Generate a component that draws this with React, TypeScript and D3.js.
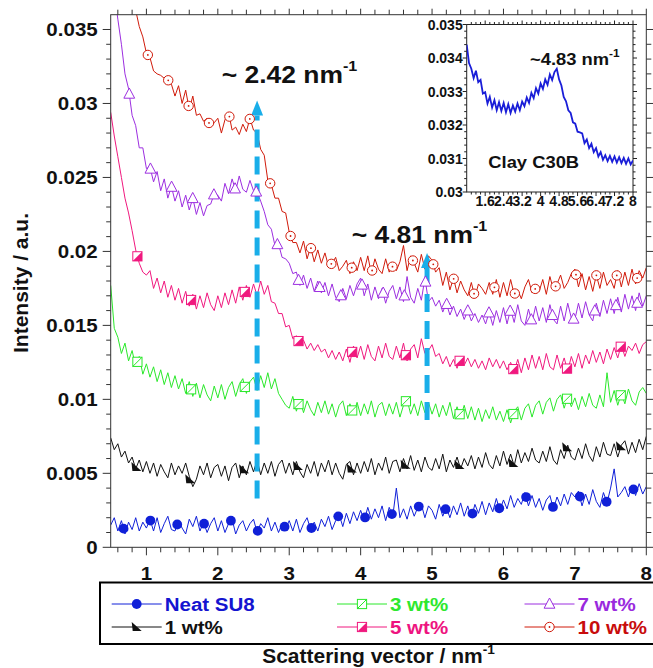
import React from "react";
import * as d3 from "d3";

// ---------------- DATA ----------------
// Scattering vector grid of the SAXS curves (nm^-1)
const X_START = 0.5;
const X_STEP = 0.05;
// Intensities in units of 1e-4 a.u., one value per grid point (0.50 ... 8.00)
const INTENSITY_UNIT = 1e-4;
const neatSU8 = [
  15, 20, 11, 18, 9, 17, 12, 20, 11, 17,
  13, 19, 11, 20, 10, 16, 21, 12, 11, 18,
  13, 9, 19, 14, 21, 11, 17, 10, 16, 20,
  11, 18, 10, 16, 19, 9, 15, 18, 11, 16,
  19, 10, 16, 13, 20, 11, 17, 10, 16, 13,
  18, 11, 19, 10, 16, 20, 12, 17, 11, 19,
  14, 21, 12, 18, 22, 14, 23, 16, 24, 18,
  25, 18, 27, 19, 26, 20, 28, 18, 27, 21,
  40, 20, 26, 19, 28, 21, 27, 29, 20, 28,
  25, 19, 29, 21, 27, 20, 28, 22, 30, 21,
  28, 20, 29, 23, 31, 22, 30, 24, 33, 25,
  32, 26, 35, 27, 33, 29, 37, 28, 35, 27,
  33, 25, 32, 35, 26, 34, 28, 36, 29, 37,
  34, 38, 28, 36, 29, 39, 31, 27, 37, 30,
  40, 53, 34, 37, 41, 34, 42, 35, 43, 36,
  41,
];
const wt1 = [
  74, 66, 70, 61, 65, 57, 61, 53, 59, 51,
  58, 50, 57, 48, 56, 51, 47, 57, 49, 55,
  50, 57, 48, 41, 46, 55, 49, 57, 47, 54,
  56, 48, 55, 45, 54, 57, 47, 55, 49, 58,
  51, 59, 49, 57, 50, 58, 48, 56, 59, 50,
  57, 49, 58, 51, 47, 56, 50, 58, 48, 57,
  51, 59, 49, 57, 50, 46, 56, 58, 49, 57,
  50, 58, 51, 60, 49, 57, 52, 61, 50, 58,
  59, 51, 60, 53, 62, 52, 59, 51, 61, 54,
  52, 60, 53, 63, 51, 59, 54, 61, 53, 60,
  55, 62, 53, 61, 54, 64, 56, 53, 62, 55,
  65, 56, 63, 55, 66, 57, 64, 58, 67, 59,
  57, 65, 58, 68, 59, 56, 66, 60, 69, 61,
  59, 67, 60, 70, 62, 58, 68, 61, 71, 63,
  62, 70, 61, 69, 72, 63, 71, 64, 73, 66,
  75,
];
const wt3 = [
  177, 148, 142, 131, 138, 126, 133, 122, 129, 117,
  124, 115, 122, 112, 120, 110, 118, 108, 116, 107,
  114, 104, 112, 102, 111, 101, 110, 103, 99, 109,
  101, 110, 100, 108, 112, 102, 110, 114, 104, 112,
  115, 106, 116, 108, 118, 107, 114, 104, 100, 96,
  94, 102, 92, 100, 91, 99, 93, 89, 98, 91,
  99, 90, 97, 88, 96, 99, 89, 97, 90, 98,
  89, 97, 90, 99, 88, 96, 98, 89, 97, 90,
  98, 88, 96, 100, 90, 97, 89, 99, 91, 98,
  90, 97, 88, 96, 89, 98, 87, 95, 88, 96,
  87, 95, 86, 94, 85, 93, 87, 95, 86, 92,
  85, 93, 84, 92, 95, 86, 94, 97, 88, 96,
  99, 90, 98, 101, 92, 100, 103, 94, 102, 95,
  101, 93, 102, 95, 104, 96, 94, 103, 95, 118,
  98, 106, 96, 104, 97, 107, 99, 96, 105, 108,
  104,
];
const wt5 = [
  294, 278, 264, 250, 236, 226, 214, 201, 192, 186,
  184, 187, 175, 182, 172, 180, 169, 177, 167, 175,
  165, 173, 163, 171, 161, 170, 162, 172, 164, 160,
  170, 162, 172, 164, 174, 165, 176, 167, 177, 169,
  178, 170, 180, 171, 177, 166, 165, 158, 158, 149,
  150, 141, 143, 137, 140, 134, 138, 133, 137, 132,
  134, 128, 133, 127, 132, 126, 134, 125, 136, 128,
  136, 127, 137, 129, 126, 136, 128, 138, 129, 127,
  136, 128, 138, 126, 134, 137, 128, 141, 131, 133,
  137, 129, 131, 124, 129, 122, 127, 121, 128, 123,
  128, 122, 127, 121, 126, 120, 128, 122, 127, 121,
  126, 120, 125, 119, 127, 118, 128, 120, 130, 121,
  129, 120, 131, 122, 120, 130, 121, 128, 119, 129,
  122, 131, 121, 130, 124, 133, 125, 132, 124, 134,
  127, 135, 128, 137, 129, 136, 133, 138, 131, 137,
  139,
];
const wt7 = [
  400, 375, 357, 340, 320, 310, 292, 285, 270, 270,
  256, 257, 247, 254, 241, 249, 236, 244, 234, 241,
  230, 238, 228, 236, 225, 233, 224, 231, 232, 239,
  238, 234, 246, 239, 249, 241, 251, 242, 240, 248,
  241, 240, 234, 227, 218, 215, 204, 205, 196, 195,
  192, 185, 186, 177, 184, 175, 182, 173, 180, 172,
  179, 170, 178, 169, 166, 175, 168, 177, 170, 178,
  182, 170, 178, 167, 176, 168, 175, 165, 173, 177,
  168, 176, 166, 183, 169, 165, 175, 167, 182, 166,
  169, 163, 167, 159, 165, 157, 163, 156, 161, 154,
  160, 153, 158, 152, 157, 151, 159, 150, 160, 152,
  162, 151, 161, 152, 164, 153, 150, 161, 152, 163,
  153, 162, 152, 164, 154, 151, 163, 153, 165, 155,
  154, 165, 155, 166, 157, 153, 165, 156, 167, 158,
  168, 158, 169, 159, 171, 161, 170, 160, 172, 163,
  170,
];
const wt10 = [
  450, 432, 418, 402, 391, 381, 373, 363, 352, 345,
  334, 331, 322, 320, 319, 317, 316, 313, 305, 312,
  300, 309, 296, 305, 292, 293, 288, 290, 284, 287,
  290, 280, 289, 294, 282, 284, 279, 286, 281, 290,
  282, 280, 269, 265, 248, 245, 236, 236, 227, 226,
  213, 206, 206, 199, 207, 195, 203, 193, 201, 192,
  199, 190, 192, 196, 187, 190, 194, 185, 193, 187,
  196, 187, 197, 185, 195, 188, 185, 195, 186, 190,
  187, 193, 204, 187, 197, 192, 186, 198, 188, 197,
  194, 186, 189, 177, 186, 174, 182, 172, 180, 174,
  170, 179, 169, 178, 175, 171, 179, 171, 181, 169,
  179, 170, 181, 171, 174, 168, 176, 181, 172, 175,
  173, 181, 171, 183, 174, 178, 184, 175, 179, 185,
  188, 176, 185, 174, 183, 173, 184, 175, 186, 177,
  181, 175, 187, 176, 186, 177, 188, 178, 187, 182,
  189,
];

// Inset: Clay C30B, grid 0.8 ... 8.0 step 0.1, intensities in 1e-5 a.u.
const INSET_X_START = 0.8;
const INSET_X_STEP = 0.1;
const INSET_UNIT = 1e-5;
const clayC30B = [
  3440, 3385, 3368, 3340, 3362, 3328, 3335, 3294, 3298, 3264,
  3284, 3252, 3274, 3244, 3268, 3242, 3266, 3238, 3262, 3236,
  3258, 3240, 3264, 3244, 3270, 3256, 3282, 3266, 3296, 3280,
  3310, 3294, 3324, 3308, 3336, 3320, 3351, 3334, 3358, 3368,
  3336, 3318, 3284, 3271, 3244, 3236, 3208, 3204, 3180, 3178,
  3175, 3146, 3157, 3131, 3144, 3119, 3131, 3106, 3119, 3096,
  3110, 3092, 3108, 3090, 3106, 3088, 3104, 3086, 3102, 3084,
  3100, 3082, 3094,
];

const Y_TICKS = [0, 0.005, 0.01, 0.015, 0.02, 0.025, 0.03, 0.035];
const Y_TICK_LABELS = ["0", "0.005", "0.01", "0.015", "0.02", "0.025", "0.03", "0.035"];
const X_TICKS = [1, 2, 3, 4, 5, 6, 7, 8];
const X_TICK_LABELS = ["1", "2", "3", "4", "5", "6", "7", "8"];
const INSET_Y_TICKS = [0.03, 0.031, 0.032, 0.033, 0.034, 0.035];
const INSET_Y_LABELS = ["0.03", "0.031", "0.032", "0.033", "0.034", "0.035"];
const INSET_X_TICKS = [1.6, 2.4, 3.2, 4, 4.8, 5.6, 6.4, 7.2, 8];
const INSET_X_LABELS = ["1.6", "2.4", "3.2", "4", "4.8", "5.6", "6.4", "7.2", "8"];
const SERIES_NAMES = ["Neat SU8", "1 wt%", "3 wt%", "5 wt%", "7 wt%", "10 wt%"];
const PEAK_LABELS = ["~ 2.42 nm", "~ 4.81 nm"];
const INSET_PEAK_LABEL = "~4.83 nm";
const INSET_NAME = "Clay C30B";

// ---------------- STYLE / LAYOUT ----------------
const W = 653;
const H = 668;
const P = { left: 110.7, right: 646.3, top: 14.7, bottom: 547.3 };
const IN = { left: 466.7, right: 633, top: 24.5, bottom: 192 };
const FONT = "'Liberation Sans', Arial, Helvetica, sans-serif";
const ARROW_COLOR = "#19aee9";

const SERIES = [
  { name: SERIES_NAMES[0], values: neatSU8, color: "#1020d8", text: "#1414d0", marker: "circle", phase: 0.68, step: 0.3758 },
  { name: SERIES_NAMES[1], values: wt1, color: "#111111", text: "#111111", marker: "rtri", phase: 0.86, step: 0.754 },
  { name: SERIES_NAMES[2], values: wt3, color: "#2ae82a", text: "#2ee82e", marker: "sqdiag", phase: 0.874, step: 0.752 },
  { name: SERIES_NAMES[3], values: wt5, color: "#f0187e", text: "#ee1480", marker: "sqhalf", phase: 0.874, step: 0.752 },
  { name: SERIES_NAMES[4], values: wt7, color: "#9c2ee0", text: "#9a2ade", marker: "tri", phase: 0.76, step: 0.2963 },
  { name: SERIES_NAMES[5], values: wt10, color: "#d01a0a", text: "#c80c0c", marker: "circdot", phase: 0.7345, step: 0.2855 },
];

const ARROWS = [
  { x: 2.55, from: 0.0033, to: 0.0302 },
  { x: 4.93, from: 0.0086, to: 0.0199 },
];
const PEAK_POS = [
  { x: 2.054, y: 0.03139 },
  { x: 3.875, y: 0.02055 },
];

const x = d3.scaleLinear().domain([0.5, 8]).range([P.left, P.right]);
const y = d3.scaleLinear().domain([0, 0.036]).range([P.bottom, P.top]);
const ix = d3.scaleLinear().domain([0.8, 8]).range([IN.left, IN.right]);
const iy = d3.scaleLinear().domain([0.03, 0.035]).range([IN.bottom, IN.top]);

function ST({ x: tx, y: ty, sx = 1, children, ...rest }: any) {
  return (
    <text transform={`translate(${tx},${ty}) scale(${sx},1)`} fontFamily={FONT} fontWeight="bold" {...rest}>
      {children}
    </text>
  );
}

function Marker({ kind, color }: { kind: string; color: string }) {
  switch (kind) {
    case "circle":
      return <circle r={4.9} fill={color} />;
    case "rtri":
      return <path d="M-5,-5L5,4L-4,4Z" fill={color} />;
    case "sqdiag":
      return (
        <g>
          <rect x={-4.6} y={-4.6} width={9.2} height={9.2} fill="#fff" stroke={color} strokeWidth={1} />
          <path d="M-4.6,4.6L4.6,-4.6" stroke={color} strokeWidth={1} />
        </g>
      );
    case "sqhalf":
      return (
        <g>
          <rect x={-4.6} y={-4.6} width={9.2} height={9.2} fill="#fff" stroke={color} strokeWidth={1} />
          <path d="M-4.6,4.6L4.6,-4.6L4.6,4.6Z" fill={color} />
        </g>
      );
    case "tri":
      return <path d="M0,-6L5.4,4.2L-5.4,4.2Z" fill="#fff" stroke={color} strokeWidth={1} />;
    case "circdot":
      return (
        <g>
          <circle r={4.7} fill="#fff" stroke={color} strokeWidth={1} />
          <circle r={0.9} fill={color} />
        </g>
      );
  }
  return null;
}

export default function App() {
  const line = d3
    .line<[number, number]>()
    .x((d) => x(d[0]))
    .y((d) => y(d[1]));
  const iline = d3
    .line<[number, number]>()
    .x((d) => ix(d[0]))
    .y((d) => iy(d[1]));

  const prepared = SERIES.map((s) => {
    const xs = s.values.map((_, i) => X_START + i * X_STEP);
    const pts: [number, number][] = s.values.map((v, i) => [xs[i], v * INTENSITY_UNIT]);
    const interp = d3.scaleLinear().domain(xs).range(s.values.map((v) => v * INTENSITY_UNIT));
    const mx = d3.range(s.phase, 8.0001, s.step);
    const markers = mx.map((m) => [m, interp(m)] as [number, number]);
    return { ...s, pts, markers };
  });

  const insetPts: [number, number][] = clayC30B.map((v, i) => [INSET_X_START + i * INSET_X_STEP, v * INSET_UNIT]);

  const yMinor = d3.range(0, 36).map((i) => i / 1000).filter((v) => Math.round(v * 1000) % 5 !== 0);
  const xMinor = d3.range(3, 41).map((i) => i / 5).filter((v) => Math.abs(v - Math.round(v)) > 1e-6);
  const iyMinor = d3.range(0, 26).map((i) => 0.03 + i * 0.0002).filter((_, i) => i % 5 !== 0);
  const ixMinor = d3.range(0, 37).map((i) => 0.8 + i * 0.2).filter((_, i) => i % 4 !== 0);

  const axisColor = "#333";
  const legendCols = [111.7, 337, 524.5];
  const legendRows = [604, 627];

  return (
    <svg width={W} height={H} style={{ position: "absolute", left: 0, top: 0, background: "#fff" }}>
      <defs>
        <clipPath id="plotClip">
          <rect x={P.left} y={P.top} width={P.right - P.left} height={P.bottom - P.top} />
        </clipPath>
        <clipPath id="insetClip">
          <rect x={IN.left} y={IN.top} width={IN.right - IN.left} height={IN.bottom - IN.top} />
        </clipPath>
      </defs>
      <rect width={W} height={H} fill="#fff" />

      {/* main series */}
      <g clipPath="url(#plotClip)">
        {prepared.map((s) => (
          <path key={s.name} d={line(s.pts) || ""} fill="none" stroke={s.color} strokeWidth={1} strokeLinejoin="miter" />
        ))}
        {ARROWS.map((a, i) => {
          const xb = x(a.x);
          const yb = y(a.from);
          const yt = y(a.to);
          return (
            <g key={i}>
              <path d={`M${xb},${yb}L${xb},${yt + 15}`} stroke={ARROW_COLOR} strokeWidth={5} strokeDasharray="18 9" />
              <path d={`M${xb},${yt}L${xb + 6},${yt + 15}L${xb - 6},${yt + 15}Z`} fill={ARROW_COLOR} />
            </g>
          );
        })}
        {prepared.map((s) => (
          <g key={s.name + "m"}>
            {s.markers.map((m, i) => (
              <g key={i} transform={`translate(${x(m[0])},${y(m[1])})`}>
                <Marker kind={s.marker} color={s.color} />
              </g>
            ))}
          </g>
        ))}
      </g>

      {/* frame and ticks */}
      <rect x={P.left} y={P.top} width={P.right - P.left} height={P.bottom - P.top} fill="none" stroke={axisColor} strokeWidth={1} />
      {Y_TICKS.map((t) => (
        <g key={"yt" + t}>
          <line x1={P.left - 8} x2={P.left} y1={y(t)} y2={y(t)} stroke={axisColor} />
          <line x1={P.right} x2={P.right + 8} y1={y(t)} y2={y(t)} stroke={axisColor} />
        </g>
      ))}
      {yMinor.map((t) => (
        <g key={"ym" + t}>
          <line x1={P.left - 4.5} x2={P.left} y1={y(t)} y2={y(t)} stroke={axisColor} />
          <line x1={P.right} x2={P.right + 5} y1={y(t)} y2={y(t)} stroke={axisColor} />
        </g>
      ))}
      {X_TICKS.map((t) => (
        <g key={"xt" + t}>
          <line x1={x(t)} x2={x(t)} y1={P.bottom} y2={P.bottom + 8} stroke={axisColor} />
          <line x1={x(t)} x2={x(t)} y1={P.top - 6} y2={P.top} stroke={axisColor} />
        </g>
      ))}
      {xMinor.map((t) => (
        <g key={"xm" + t}>
          <line x1={x(t)} x2={x(t)} y1={P.bottom} y2={P.bottom + 5} stroke={axisColor} />
          <line x1={x(t)} x2={x(t)} y1={P.top - 5} y2={P.top} stroke={axisColor} />
        </g>
      ))}
      {Y_TICKS.map((t, i) => (
        <ST key={"yl" + t} x={P.left - 13} y={y(t) + 7} sx={1.08} fontSize={19} textAnchor="end" fill="#111">
          {Y_TICK_LABELS[i]}
        </ST>
      ))}
      {X_TICKS.map((t, i) => (
        <ST key={"xl" + t} x={x(t)} y={580} sx={1.08} fontSize={19} textAnchor="middle" fill="#111">
          {X_TICK_LABELS[i]}
        </ST>
      ))}

      {/* axis titles */}
      <text transform="translate(28,283) rotate(-90)" fontFamily={FONT} fontWeight="bold" fontSize={21} textAnchor="middle" fill="#111">
        Intensity / a.u.
      </text>
      <ST x={(P.left + P.right) / 2} y={663} sx={1.05} fontSize={20} textAnchor="middle" fill="#111">
        Scattering vector / nm
        <tspan fontSize={13} dy={-9}>-1</tspan>
      </ST>

      {/* peak annotations */}
      {PEAK_LABELS.map((t, i) => (
        <ST key={"pk" + i} x={x(PEAK_POS[i].x)} y={y(PEAK_POS[i].y)} sx={1.15} fontSize={23} fill="#111">
          {t}
          <tspan fontSize={14} dy={-12}>-1</tspan>
        </ST>
      ))}

      {/* inset */}
      <rect x={IN.left} y={IN.top} width={IN.right - IN.left} height={IN.bottom - IN.top} fill="#fff" stroke="#222" strokeWidth={1} />
      <g clipPath="url(#insetClip)">
        <path d={iline(insetPts) || ""} fill="none" stroke="#1a1ed8" strokeWidth={1.8} />
      </g>
      {INSET_Y_TICKS.map((t) => (
        <g key={"iyt" + t}>
          <line x1={IN.left - 4} x2={IN.left} y1={iy(t)} y2={iy(t)} stroke="#222" />
          <line x1={IN.right} x2={IN.right + 4} y1={iy(t)} y2={iy(t)} stroke="#222" />
        </g>
      ))}
      {iyMinor.map((t, i) => (
        <g key={"iym" + i}>
          <line x1={IN.left - 2.5} x2={IN.left} y1={iy(t)} y2={iy(t)} stroke="#222" />
          <line x1={IN.right} x2={IN.right + 2.5} y1={iy(t)} y2={iy(t)} stroke="#222" />
        </g>
      ))}
      {INSET_X_TICKS.map((t) => (
        <g key={"ixt" + t}>
          <line x1={ix(t)} x2={ix(t)} y1={IN.bottom} y2={IN.bottom + 4} stroke="#222" />
          <line x1={ix(t)} x2={ix(t)} y1={IN.top - 4} y2={IN.top} stroke="#222" />
        </g>
      ))}
      {ixMinor.map((t, i) => (
        <g key={"ixm" + i}>
          <line x1={ix(t)} x2={ix(t)} y1={IN.bottom} y2={IN.bottom + 2.5} stroke="#222" />
          <line x1={ix(t)} x2={ix(t)} y1={IN.top - 2.5} y2={IN.top} stroke="#222" />
        </g>
      ))}
      {INSET_Y_TICKS.map((t, i) => (
        <ST key={"iyl" + t} x={IN.left - 4} y={iy(t) + 5} fontSize={14} textAnchor="end" fill="#111">
          {INSET_Y_LABELS[i]}
        </ST>
      ))}
      {INSET_X_TICKS.map((t, i) => (
        <ST key={"ixl" + t} x={ix(t)} y={206} fontSize={14} textAnchor="middle" fill="#111">
          {INSET_X_LABELS[i]}
        </ST>
      ))}
      <ST x={530} y={65} sx={1.08} fontSize={17} fill="#111">
        {INSET_PEAK_LABEL}
        <tspan fontSize={11} dy={-8}>-1</tspan>
      </ST>
      <ST x={488.3} y={168.3} sx={1.08} fontSize={17} fill="#111">
        {INSET_NAME}
      </ST>

      {/* legend */}
      <rect x={100} y={582.5} width={560} height={61.5} fill="none" stroke="#000" strokeWidth={2} />
      {prepared.map((s, i) => {
        const lx = legendCols[Math.floor(i / 2)];
        const ly = legendRows[i % 2];
        return (
          <g key={"lg" + i}>
            <line x1={lx} x2={lx + 50} y1={ly} y2={ly} stroke={s.color} strokeWidth={1} />
            <g transform={`translate(${lx + 25},${ly})`}>
              <Marker kind={s.marker} color={s.color} />
            </g>
            <ST x={lx + 53} y={ly + 7} sx={1.08} fontSize={19} fill={s.text}>
              {s.name}
            </ST>
          </g>
        );
      })}
    </svg>
  );
}
